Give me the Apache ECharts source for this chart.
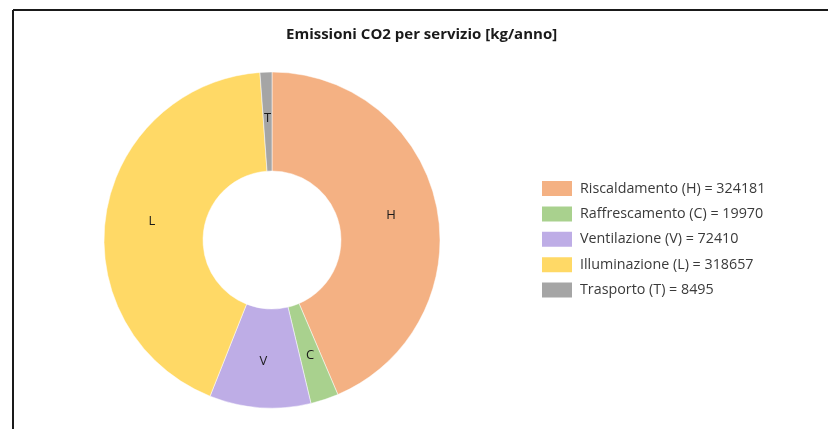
<!DOCTYPE html>
<html>
<head>
<meta charset="utf-8">
<script src="https://cdn.jsdelivr.net/npm/echarts@6/dist/echarts.min.js"></script>
<style>
  html, body { margin: 0; padding: 0; background: #fff; }
  #chart { width: 828px; height: 429px; }
</style>
</head>
<body>
<div id="chart"></div>
<script>
// CO2 emissions per service, kg per year
const services = ['Riscaldamento', 'Raffrescamento', 'Ventilazione', 'Illuminazione', 'Trasporto'];
const codes = ['H', 'C', 'V', 'L', 'T'];
const emissions = [324181, 19970, 72410, 318657, 8495];
const colors = ['#F4B183', '#A9D18E', '#BEADE6', '#FFD966', '#A5A5A5'];

const legendNames = services.map((s, i) => `${s} (${codes[i]}) = ${emissions[i]}`);

const data = emissions.map((v, i) => ({
  name: legendNames[i],
  value: v,
  code: codes[i],
  itemStyle: { color: colors[i] }
}));

const chart = echarts.init(document.getElementById('chart'), null, { renderer: 'canvas' });

chart.setOption({
  animation: false,
  backgroundColor: '#ffffff',
  title: {
    text: 'Emissioni CO2 per servizio [kg/anno]',
    left: 286,
    top: 27,
    padding: 0,
    textStyle: {
      fontFamily: 'Open Sans, sans-serif',
      fontSize: 15,
      fontWeight: 'bold',
      color: '#1a1a1a'
    }
  },
  legend: {
    orient: 'vertical',
    left: 540,
    top: 179,
    padding: 0,
    itemWidth: 32,
    itemHeight: 17,
    itemGap: 6.4,
    icon: 'rect',
    selectedMode: false,
    data: legendNames,
    textStyle: {
      fontFamily: 'Open Sans, sans-serif',
      fontSize: 14.3,
      lineHeight: 17,
      color: '#3a3a3a',
      padding: [0, 0, 0, 2]
    }
  },
  graphic: [
    { type: 'line', shape: { x1: 13, y1: 10, x2: 828, y2: 10 }, style: { stroke: '#1a1a1a', lineWidth: 2 } },
    { type: 'line', shape: { x1: 13, y1: 10, x2: 13, y2: 429 }, style: { stroke: '#1a1a1a', lineWidth: 2 } }
  ],
  series: [{
    type: 'pie',
    center: [272, 240],
    radius: [69, 168],
    startAngle: 90,
    clockwise: true,
    avoidLabelOverlap: false,
    label: {
      show: true,
      position: 'inside',
      formatter: p => p.data.code,
      fontFamily: 'Open Sans, sans-serif',
      fontSize: 13,
      color: '#1a1a1a'
    },
    labelLine: { show: false },
    itemStyle: { borderColor: '#ffffff', borderWidth: 0.5 },
    emphasis: { disabled: true },
    data: data
  }]
});
</script>
</body>
</html>
